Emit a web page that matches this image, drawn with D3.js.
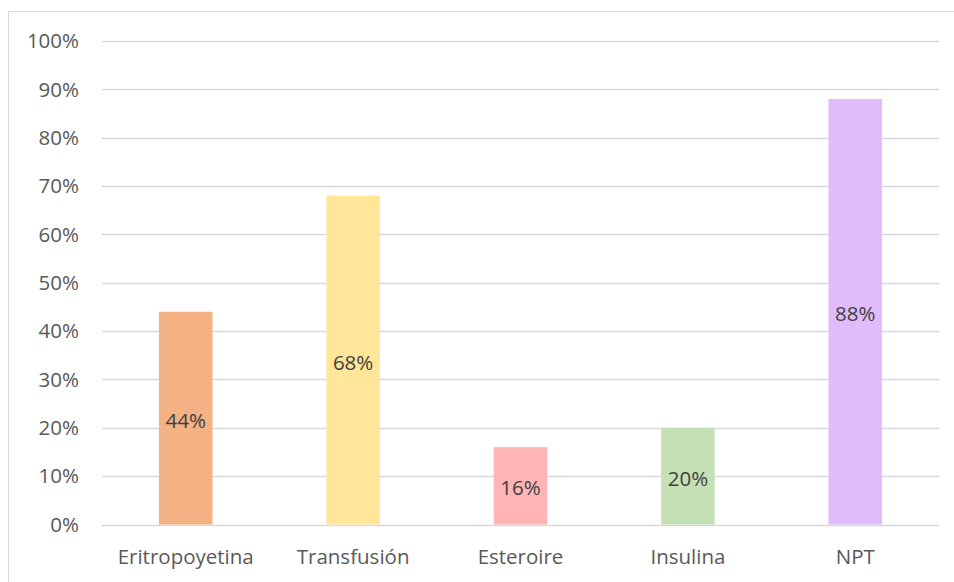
<!DOCTYPE html>
<html>
<head>
<meta charset="utf-8">
<script src="https://cdn.jsdelivr.net/npm/d3@7"></script>
<style>
  html, body { margin: 0; padding: 0; background: #fff; }
  svg { display: block; font-family: "Open Sans", sans-serif; }
</style>
</head>
<body>
<svg id="chart" width="954" height="582"></svg>
<script>
// Treatments and share of patients receiving each one
const categories = ["Eritropoyetina", "Transfusión", "Esteroire", "Insulina", "NPT"];
const values = [0.44, 0.68, 0.16, 0.20, 0.88];
const colors = ["#f4b183", "#ffe699", "#ffb5b5", "#c5e0b4", "#e1bcfc"];
const yTicks = [0, 0.1, 0.2, 0.3, 0.4, 0.5, 0.6, 0.7, 0.8, 0.9, 1.0];

const FONT = "'Open Sans', sans-serif";
const FS = "20.5px";

const svg = d3.select("#chart");
const W = 954, H = 582;
const margin = { left: 102, right: 15, top: 41, bottom: 57.5 };

// outer frame of the chart area
svg.append("rect")
  .attr("x", 8.5).attr("y", 11.5)
  .attr("width", W).attr("height", H)
  .attr("fill", "none").attr("stroke", "#d9d9d9").attr("stroke-width", 1);

const x = d3.scaleBand()
  .domain(categories)
  .range([margin.left, W - margin.right])
  .paddingInner(0.68).paddingOuter(0.34);

const y = d3.scaleLinear()
  .domain([0, 1])
  .range([H - margin.bottom, margin.top]);

// horizontal gridlines
svg.append("g")
  .selectAll("line")
  .data(yTicks)
  .join("line")
  .attr("x1", margin.left).attr("x2", W - margin.right)
  .attr("y1", d => Math.round(y(d)) + 0.5)
  .attr("y2", d => Math.round(y(d)) + 0.5)
  .attr("stroke", "#d9d9d9").attr("stroke-width", 1.3);

// y-axis labels
const yAxis = d3.axisLeft(y).tickValues(yTicks).tickFormat(d3.format(".0%")).tickSize(0).tickPadding(0);
const gy = svg.append("g").attr("transform", `translate(79,0)`).call(yAxis);
gy.select(".domain").remove();
gy.selectAll("text")
  .attr("fill", "#595959")
  .attr("dy", "0.33em")
  .style("font-size", FS)
  .style("font-family", FONT);

// bars
svg.append("g")
  .selectAll("rect")
  .data(values)
  .join("rect")
  .attr("x", (d, i) => x(categories[i]))
  .attr("width", x.bandwidth())
  .attr("y", d => y(d))
  .attr("height", d => y(0) - y(d))
  .attr("fill", (d, i) => colors[i]);

// value labels centred in each bar
svg.append("g")
  .selectAll("text")
  .data(values)
  .join("text")
  .attr("x", (d, i) => x(categories[i]) + x.bandwidth() / 2)
  .attr("y", d => (y(d) + y(0)) / 2)
  .attr("dy", "0.47em")
  .attr("text-anchor", "middle")
  .attr("fill", "#404040")
  .style("font-size", FS)
  .style("font-family", FONT)
  .text(d => d3.format(".0%")(d));

// category axis
const xAxis = d3.axisBottom(x).tickSize(0).tickPadding(0);
const gx = svg.append("g").attr("transform", `translate(0,${y(0)})`).call(xAxis);
gx.select(".domain").remove();
gx.selectAll("text")
  .attr("y", 39.5)
  .attr("dy", null)
  .attr("fill", "#595959")
  .style("font-size", FS)
  .style("font-family", FONT);
</script>
</body>
</html>
